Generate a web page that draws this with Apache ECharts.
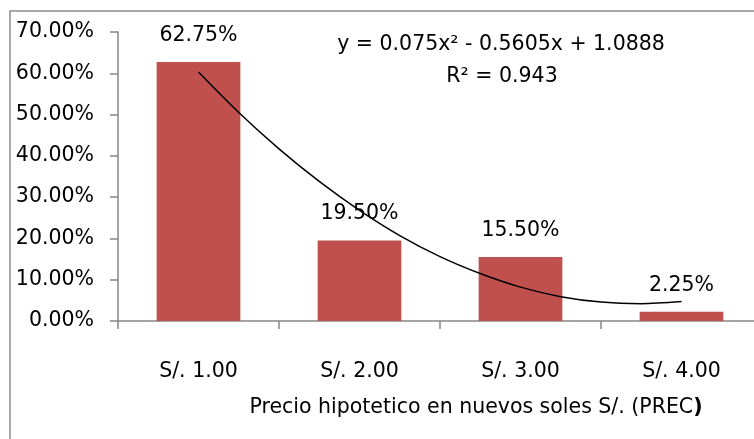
<!DOCTYPE html>
<html>
<head>
<meta charset="utf-8">
<style>
  html, body { margin: 0; padding: 0; background: #fff; }
  #chart { width: 754px; height: 439px; }
</style>
<script src="https://cdn.jsdelivr.net/npm/echarts@6/dist/echarts.min.js"></script>
</head>
<body>
<div id="chart"></div>
<script>
  // precios hipoteticos y porcentaje de respuesta
  var categories = ['S/. 1.00', 'S/. 2.00', 'S/. 3.00', 'S/. 4.00'];
  var shares = [62.75, 19.50, 15.50, 2.25];
  var yTicks = [0, 10, 20, 30, 40, 50, 60, 70];

  // linea de tendencia (x = precio, y = %)
  var trendX = [1, 1.25, 1.5, 1.75, 2, 2.25, 2.5, 2.75, 3, 3.25, 3.5, 3.75, 4];
  var trendY = [60.3, 50.5, 41.7, 33.8, 26.8, 20.7, 15.6, 11.5, 8.2, 5.9, 4.6, 4.2, 4.7];

  var equationText = 'y = 0.075x² - 0.5605x + 1.0888';
  var r2Text = 'R² = 0.943';

  var font = 'DejaVu Sans';
  var fs = 20.5;
  var chart = echarts.init(document.getElementById('chart'));

  var trendData = trendX.map(function (x, i) { return [x, trendY[i]]; });

  var option = {
    animation: false,
    backgroundColor: '#fff',
    textStyle: { fontFamily: font },
    grid: { left: 118, width: 644, top: 32, bottom: 118, containLabel: false, outerBoundsMode: 'none' },
    xAxis: [
      {
        type: 'category',
        data: categories,
        axisLine: { lineStyle: { color: '#868686', width: 1.5 } },
        axisTick: { show: true, length: 8, lineStyle: { color: '#868686', width: 1.5 } },
        axisLabel: { color: '#000', fontSize: fs, fontFamily: font, margin: 40 },
        splitLine: { show: false }
      },
      {
        type: 'value',
        min: 0.5,
        max: 4.5,
        show: false
      }
    ],
    yAxis: {
      type: 'value',
      min: yTicks[0],
      max: yTicks[yTicks.length - 1],
      interval: 10,
      axisLine: { show: true, lineStyle: { color: '#868686', width: 1.5 } },
      axisTick: { show: true, length: 8, lineStyle: { color: '#868686', width: 1.5 } },
      axisLabel: {
        color: '#000', fontSize: fs, fontFamily: font, margin: 24,
        formatter: function (v) { return v.toFixed(2) + '%'; }
      },
      splitLine: { show: false }
    },
    series: [
      {
        name: 'PREC',
        type: 'bar',
        data: shares,
        barWidth: '52%',
        itemStyle: { color: '#C0504D' },
        label: {
          show: true,
          position: 'top',
          distance: 16,
          color: '#000',
          fontSize: fs,
          fontFamily: font,
          formatter: function (p) { return p.value.toFixed(2) + '%'; }
        }
      },
      {
        name: 'Tendencia',
        type: 'line',
        xAxisIndex: 1,
        data: trendData,
        smooth: 0.3,
        showSymbol: false,
        lineStyle: { color: '#000', width: 1.5 },
        z: 5
      }
    ],
    graphic: [
      {
        type: 'rect',
        shape: { x: 10, y: 11, width: 800, height: 500 },
        style: { fill: 'none', stroke: '#8c8c8c', lineWidth: 1.5 },
        silent: true
      },
      {
        type: 'text',
        x: 501, y: 45,
        style: {
          text: equationText, fill: '#000', font: fs + 'px ' + font,
          align: 'center', verticalAlign: 'middle'
        }
      },
      {
        type: 'text',
        x: 502, y: 77,
        style: {
          text: r2Text, fill: '#000', font: fs + 'px ' + font,
          align: 'center', verticalAlign: 'middle'
        }
      },
      {
        type: 'text',
        x: 476, y: 408,
        style: {
          text: '{n|Precio hipotetico en nuevos soles S/. (PREC}{b|)}',
          align: 'center', verticalAlign: 'middle',
          rich: {
            n: { fontSize: fs, fontFamily: font, fill: '#000' },
            b: { fontSize: fs, fontFamily: font, fontWeight: 'bold', fill: '#000' }
          }
        }
      }
    ]
  };

  chart.setOption(option);
</script>
</body>
</html>
